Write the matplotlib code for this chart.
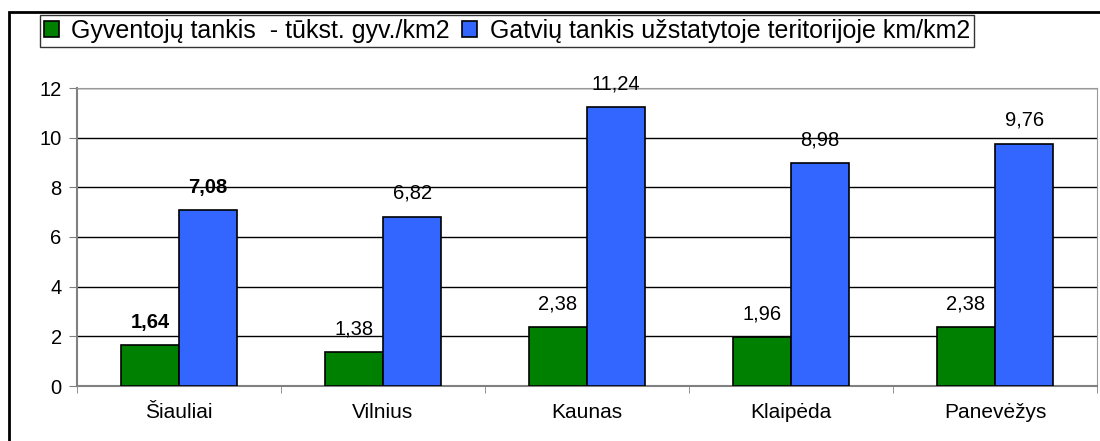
import matplotlib.pyplot as plt
import numpy as np
from matplotlib.patches import Rectangle

plt.rcParams['font.family'] = ['Liberation Sans', 'DejaVu Sans']

# ─── Data ─────────────────────────────────────────────────────────────────────
cities = ['Šiauliai', 'Vilnius', 'Kaunas', 'Klaipėda', 'Panevėžys']
gyv_tankis = [1.64, 1.38, 2.38, 1.96, 2.38]
gatviu_tankis = [7.08, 6.82, 11.24, 8.98, 9.76]
gyv_labels = ['1,64', '1,38', '2,38', '1,96', '2,38']
gat_labels = ['7,08', '6,82', '11,24', '8,98', '9,76']
series_names = ['Gyventojų tankis  - tūkst. gyv./km2',
                'Gatvių tankis užstatytoje teritorijoje km/km2']
bold_first = True   # Šiauliai labels are bold

W, H = 1100, 441
fig = plt.figure(figsize=(W / 100, H / 100), dpi=100)

# outer chart border (left/top visible)
fig.patches.append(Rectangle((9 / W, -0.05), 1.2, (H - 12) / H + 0.05,
                             transform=fig.transFigure, fill=False,
                             edgecolor='black', lw=2))

ax = fig.add_axes([77 / W, (H - 386) / H, (1097 - 77) / W, (386 - 88) / H])

x = np.arange(len(cities))
bw = 0.285
b1 = ax.bar(x - bw / 2, gyv_tankis, bw, color='#008000', edgecolor='black',
            lw=1.2, label=series_names[0], zorder=3)
b2 = ax.bar(x + bw / 2, gatviu_tankis, bw, color='#3366FF', edgecolor='black',
            lw=1.2, label=series_names[1], zorder=3)

for i in range(len(cities)):
    fw = 'bold' if (bold_first and i == 0) else 'normal'
    ax.text(x[i] - bw / 2, gyv_tankis[i] + 0.55, gyv_labels[i], ha='center',
            va='bottom', fontsize=14.5, fontweight=fw)
    ax.text(x[i] + bw / 2, gatviu_tankis[i] + 0.55, gat_labels[i], ha='center',
            va='bottom', fontsize=14.5, fontweight=fw)

ax.set_xlim(-0.5, len(cities) - 0.5)
ax.set_ylim(0, 12)
ax.set_yticks(range(0, 13, 2))
ax.set_xticks(x)
ax.set_xticklabels(cities, fontsize=15)
ax.tick_params(axis='x', length=0, pad=12)
ax.tick_params(axis='y', labelsize=14.5, length=6, pad=5, color='#808080')
ax.set_xticks(np.arange(-0.5, len(cities), 1.0), minor=True)
ax.tick_params(axis='x', which='minor', length=5, color='#808080')
ax.yaxis.grid(True, color='black', lw=1, zorder=0)
for s in ['top', 'right']:
    ax.spines[s].set_color('#999999')
for s in ['left', 'bottom']:
    ax.spines[s].set_color('#808080')
    ax.spines[s].set_linewidth(1.5)

leg = fig.legend(handles=[b1, b2], loc='upper left',
                 bbox_to_anchor=(40 / W, 1 - 15 / H), ncol=2, fontsize=18,
                 frameon=True, fancybox=False, handlelength=0.6,
                 handleheight=0.6, handletextpad=0.5, columnspacing=0.5,
                 borderpad=0.15, borderaxespad=0)
leg.get_frame().set_edgecolor('black')
leg.get_frame().set_linewidth(1)

plt.savefig('out.png', dpi=100)
